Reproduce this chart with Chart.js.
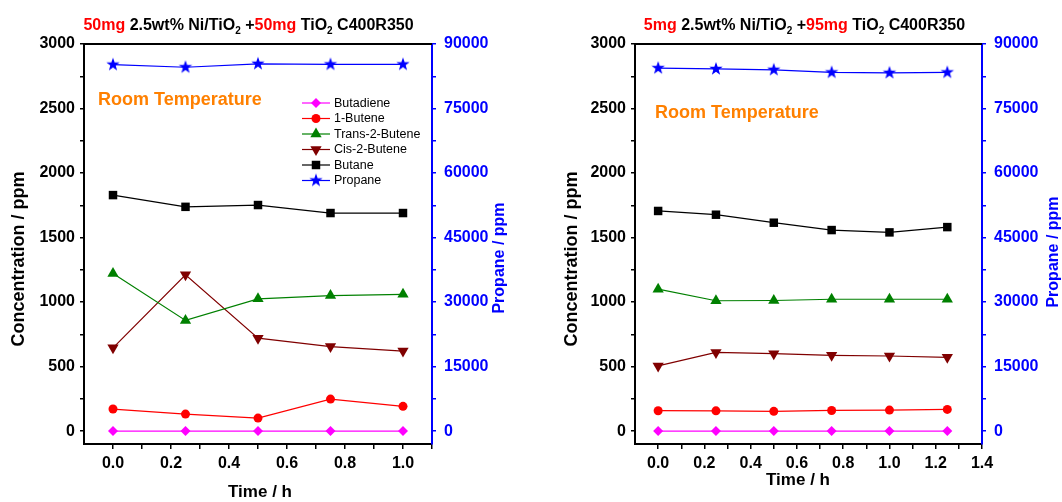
<!DOCTYPE html>
<html>
<head>
<title>Room temperature hydrogenation</title>
<script src="https://cdn.jsdelivr.net/npm/chart.js"></script>
<style>
  body { margin: 0; background: #fff; }
  .wrap { position: relative; width: 1062px; height: 502px; }
  canvas { position: absolute; top: 0; }
</style>
</head>
<body>
<div class="wrap">
  <canvas id="left" width="531" height="502" style="left:0"></canvas>
  <canvas id="right" width="531" height="502" style="left:531px"></canvas>
</div>

<script>
// data
const seriesNames = ['Butadiene', '1-Butene', 'Trans-2-Butene', 'Cis-2-Butene', 'Butane', 'Propane'];

const timeA = [0, 0.25, 0.5, 0.75, 1.0];
const butadieneA = [0, 0, 0, 0, 0];
const buteneA = [171, 132, 101, 248, 192];
const transA = [1222, 858, 1025, 1050, 1060];
const cisA = [645, 1212, 720, 655, 620];
const butaneA = [1829, 1738, 1752, 1690, 1690];
const propaneA = [85200, 84600, 85400, 85250, 85250];

const timeB = [0, 0.25, 0.5, 0.75, 1.0, 1.25];
const butadieneB = [0, 0, 0, 0, 0, 0];
const buteneB = [158, 157, 153, 160, 163, 168];
const transB = [1100, 1010, 1012, 1022, 1022, 1022];
const cisB = [505, 610, 600, 587, 582, 572];
const butaneB = [1706, 1677, 1615, 1558, 1540, 1581];
const propaneB = [84400, 84200, 84000, 83400, 83300, 83400];

// tick positions (labels only on every second one)
const xTicksA = [0, 0.1, 0.2, 0.3, 0.4, 0.5, 0.6, 0.7, 0.8, 0.9, 1.0, 1.1];
const xTicksB = [0, 0.1, 0.2, 0.3, 0.4, 0.5, 0.6, 0.7, 0.8, 0.9, 1.0, 1.1, 1.2, 1.3, 1.4];
const concTicks = [0, 250, 500, 750, 1000, 1250, 1500, 1750, 2000, 2250, 2500, 2750, 3000];
const propTicks = [0, 7500, 15000, 22500, 30000, 37500, 45000, 52500, 60000, 67500, 75000, 82500, 90000];

Chart.defaults.font.family = 'Arial, "Liberation Sans", sans-serif';
Chart.defaults.animation = false;

const FONT = 'Arial, "Liberation Sans", sans-serif';
const BLUE = '#0000FF';

// filled five point star used for propane
function makeStar(r) {
  const s = Math.ceil(r * 2) + 2;
  const c = document.createElement('canvas');
  c.width = s; c.height = s;
  const g = c.getContext('2d');
  g.fillStyle = BLUE;
  g.beginPath();
  for (let i = 0; i < 10; i++) {
    const rad = i % 2 ? r * 0.4 : r;
    const a = -Math.PI / 2 + i * Math.PI / 5;
    g.lineTo(s / 2 + rad * Math.cos(a), s / 2 + rad * Math.sin(a));
  }
  g.closePath();
  g.fill();
  return c;
}
const star = makeStar(7);

const styles = [
  { color: '#FF00FF', pointStyle: 'rectRot', radius: 5, rotation: 0 },
  { color: '#FF0000', pointStyle: 'circle', radius: 4.5, rotation: 0 },
  { color: '#008000', pointStyle: 'triangle', radius: 6.5, rotation: 0 },
  { color: '#800000', pointStyle: 'triangle', radius: 6.5, rotation: 180 },
  { color: '#000000', pointStyle: 'rect', radius: 6, rotation: 0 },
  { color: BLUE, pointStyle: star, radius: 7, rotation: 0 }
];

function pts(xs, ys) { return xs.map((x, i) => ({ x: x, y: ys[i] })); }

function makeDatasets(xs, lists) {
  return lists.map((ys, i) => ({
    label: seriesNames[i],
    data: pts(xs, ys),
    yAxisID: i === 5 ? 'y2' : 'y',
    borderColor: styles[i].color,
    backgroundColor: styles[i].color,
    borderWidth: 1.2,
    pointStyle: styles[i].pointStyle,
    pointRadius: styles[i].radius,
    pointRotation: styles[i].rotation,
    pointBorderWidth: 0,
    tension: 0
  }));
}

function drawMarker(ctx, st, x, y) {
  ctx.save();
  ctx.fillStyle = st.color;
  ctx.translate(x, y);
  ctx.rotate(st.rotation * Math.PI / 180);
  const r = st.radius;
  ctx.beginPath();
  if (st.pointStyle === 'circle') {
    ctx.arc(0, 0, r, 0, Math.PI * 2);
  } else if (st.pointStyle === 'rect') {
    const h = r * Math.SQRT1_2;
    ctx.rect(-h, -h, 2 * h, 2 * h);
  } else if (st.pointStyle === 'rectRot') {
    ctx.moveTo(0, -r); ctx.lineTo(r, 0); ctx.lineTo(0, r); ctx.lineTo(-r, 0);
  } else if (st.pointStyle === 'triangle') {
    ctx.moveTo(0, -r);
    ctx.lineTo(r * Math.cos(Math.PI / 6), r / 2);
    ctx.lineTo(-r * Math.cos(Math.PI / 6), r / 2);
  } else {
    ctx.drawImage(st.pointStyle, -st.pointStyle.width / 2, -st.pointStyle.height / 2);
  }
  ctx.closePath();
  ctx.fill();
  ctx.restore();
}

// title with red masses and subscript 2
function drawTitle(ctx, parts, cx, y) {
  const big = 'bold 16px ' + FONT, small = 'bold 10px ' + FONT;
  let w = 0;
  parts.forEach(p => { ctx.font = p.sub ? small : big; w += ctx.measureText(p.t).width; });
  let x = cx - w / 2;
  ctx.textBaseline = 'alphabetic';
  ctx.textAlign = 'left';
  parts.forEach(p => {
    ctx.font = p.sub ? small : big;
    ctx.fillStyle = p.red ? '#FF0000' : '#000';
    ctx.fillText(p.t, x, p.sub ? y + 4 : y);
    x += ctx.measureText(p.t).width;
  });
}

function rotText(ctx, text, x, y, font, color) {
  ctx.save();
  ctx.translate(x, y);
  ctx.rotate(-Math.PI / 2);
  ctx.font = font;
  ctx.fillStyle = color;
  ctx.textAlign = 'center';
  ctx.textBaseline = 'middle';
  ctx.fillText(text, 0, 0);
  ctx.restore();
}

function setTicks(values) {
  return scale => { scale.ticks = values.map(v => ({ value: v })); };
}

function makeChart(id, xs, lists, cfg) {
  const extras = {
    id: 'extras',
    afterDraw(chart) {
      const ctx = chart.ctx, a = chart.chartArea;
      ctx.save();
      // top frame
      ctx.strokeStyle = '#000';
      ctx.lineWidth = 2;
      ctx.beginPath();
      ctx.moveTo(a.left - 1, a.top);
      ctx.lineTo(a.right, a.top);
      ctx.stroke();

      drawTitle(ctx, cfg.title, cfg.titleX, 30);

      rotText(ctx, 'Concentration / ppm', cfg.yTitleX, 259, 'bold 18px ' + FONT, '#000');
      rotText(ctx, 'Propane / ppm', cfg.y2TitleX, cfg.y2TitleY, 'bold 16px ' + FONT, BLUE);

      ctx.font = 'bold 17px ' + FONT;
      ctx.fillStyle = '#000';
      ctx.textAlign = 'center';
      ctx.textBaseline = 'middle';
      ctx.fillText('Time / h', cfg.xTitleX, cfg.xTitleY);

      ctx.font = 'bold 18px ' + FONT;
      ctx.fillStyle = '#FF8000';
      ctx.textAlign = 'left';
      ctx.textBaseline = 'alphabetic';
      ctx.fillText('Room Temperature', cfg.rtX, cfg.rtY);

      if (cfg.legend) {
        ctx.font = '12.5px ' + FONT;
        ctx.textBaseline = 'middle';
        seriesNames.forEach((name, i) => {
          const y = 103 + i * 15.5;
          ctx.strokeStyle = styles[i].color;
          ctx.lineWidth = 1.2;
          ctx.beginPath();
          ctx.moveTo(302, y);
          ctx.lineTo(330, y);
          ctx.stroke();
          drawMarker(ctx, styles[i], 316, y);
          ctx.fillStyle = '#000';
          ctx.fillText(name, 334, y + 0.5);
        });
      }
      ctx.restore();
    }
  };

  return new Chart(document.getElementById(id), {
    type: 'line',
    data: { datasets: makeDatasets(xs, lists) },
    options: {
      responsive: false,
      devicePixelRatio: 1,
      layout: { padding: { top: 44, left: 0, right: 0, bottom: 0 } },
      plugins: { legend: { display: false }, tooltip: { enabled: false } },
      scales: {
        x: {
          type: 'linear',
          min: -0.1,
          max: cfg.xMax,
          afterBuildTicks: setTicks(cfg.xTicks),
          afterFit: s => { s.height = 58; },
          ticks: {
            autoSkip: false,
            maxRotation: 0,
            padding: 5,
            color: '#000',
            font: { size: 16, weight: 'bold' },
            callback: v => {
              const k = Math.round(v * 10);
              return (k % 2 === 0) ? (k / 10).toFixed(1) : '';
            }
          },
          grid: { drawOnChartArea: false, tickLength: 5, color: '#000', lineWidth: 1.5 },
          border: { color: '#000', width: 2 }
        },
        y: {
          position: 'left',
          min: -100,
          max: 3000,
          afterBuildTicks: setTicks(concTicks),
          afterFit: s => { s.width = cfg.yWidth; },
          ticks: {
            autoSkip: false,
            padding: 5,
            color: '#000',
            font: { size: 16, weight: 'bold' },
            callback: v => (Math.round(v) % 500 === 0) ? String(Math.round(v)) : ''
          },
          grid: { drawOnChartArea: false, tickLength: 4, lineWidth: 1.5, color: '#000' },
          border: { color: '#000', width: 2 }
        },
        y2: {
          position: 'right',
          min: -3000,
          max: 90000,
          afterBuildTicks: setTicks(propTicks),
          afterFit: s => { s.width = cfg.y2Width; },
          ticks: {
            autoSkip: false,
            padding: 8,
            color: BLUE,
            font: { size: 16, weight: 'bold' },
            callback: v => (Math.round(v) % 15000 === 0) ? String(Math.round(v)) : ''
          },
          grid: { drawOnChartArea: false, tickLength: 4, lineWidth: 1.5, color: BLUE },
          border: { color: BLUE, width: 2 }
        }
      }
    },
    plugins: [extras]
  });
}

makeChart('left', timeA, [butadieneA, buteneA, transA, cisA, butaneA, propaneA], {
  xMax: 1.1,
  xTicks: xTicksA,
  yWidth: 84,
  y2Width: 99,
  title: [
    { t: '50mg ', red: true }, { t: '2.5wt% Ni/TiO' }, { t: '2', sub: true },
    { t: ' +' }, { t: '50mg', red: true }, { t: ' TiO' }, { t: '2', sub: true }, { t: ' C400R350' }
  ],
  titleX: 248.5,
  yTitleX: 19,
  y2TitleX: 500,
  y2TitleY: 258,
  xTitleX: 260,
  xTitleY: 492,
  rtX: 98,
  rtY: 105,
  legend: true
});

makeChart('right', timeB, [butadieneB, buteneB, transB, cisB, butaneB, propaneB], {
  xMax: 1.4,
  xTicks: xTicksB,
  yWidth: 104,
  y2Width: 80,
  title: [
    { t: '5mg ', red: true }, { t: '2.5wt% Ni/TiO' }, { t: '2', sub: true },
    { t: ' +' }, { t: '95mg', red: true }, { t: ' TiO' }, { t: '2', sub: true }, { t: ' C400R350' }
  ],
  titleX: 273.5,
  yTitleX: 41,
  y2TitleX: 523,
  y2TitleY: 252,
  xTitleX: 267,
  xTitleY: 480,
  rtX: 124,
  rtY: 118,
  legend: false
});
</script>
</body>
</html>
